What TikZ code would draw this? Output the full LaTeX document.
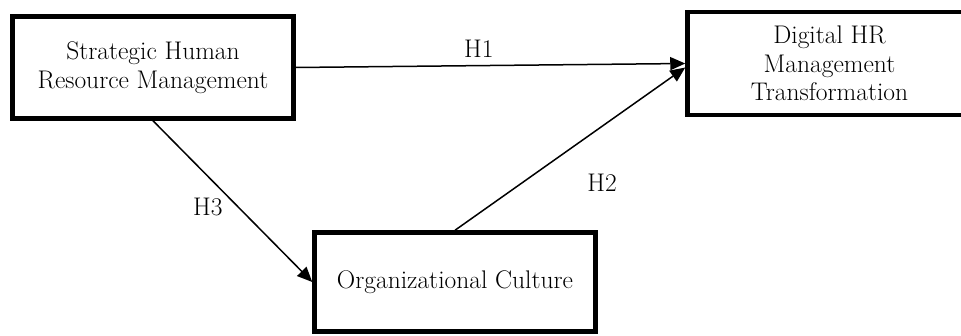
\documentclass[tikz,border=0pt]{standalone}
\usetikzlibrary{arrows.meta}
\begin{document}
\begin{tikzpicture}[x=1pt,y=-1pt,>={Triangle[length=15pt,width=13pt]},
  box/.style={draw,line width=4.5pt,align=center,inner sep=0pt,font=\fontsize{25.5}{28.5}\selectfont},
  link/.style={->,line width=1.5pt},
  lbl/.style={font=\fontsize{25.5}{28.5}\selectfont}]
  \useasboundingbox (0,0) rectangle (961,336);
  \node[box,minimum width=281pt,minimum height=102pt] (shrm) at (153,67.5) {Strategic Human\\Resource Management};
  \node[box,minimum width=284pt,minimum height=103pt] (digital) at (829.5,63.5) {Digital HR\\Management\\Transformation};
  \node[box,minimum width=281pt,minimum height=99pt] (orgcult) at (455,282) {Organizational Culture};

  \draw[link] (shrm.east) -- node[lbl,pos=.47,above,yshift=4pt] {H1} (digital.west);
  \draw[link] (orgcult.north) -- node[lbl,midway,xshift=32pt,yshift=-34pt] {H2} ([yshift=-4pt]digital.west);
  \draw[link] (shrm.south) -- node[lbl,left,xshift=-6pt,yshift=-6pt] {H3} (orgcult.west);
\end{tikzpicture}
\end{document}
